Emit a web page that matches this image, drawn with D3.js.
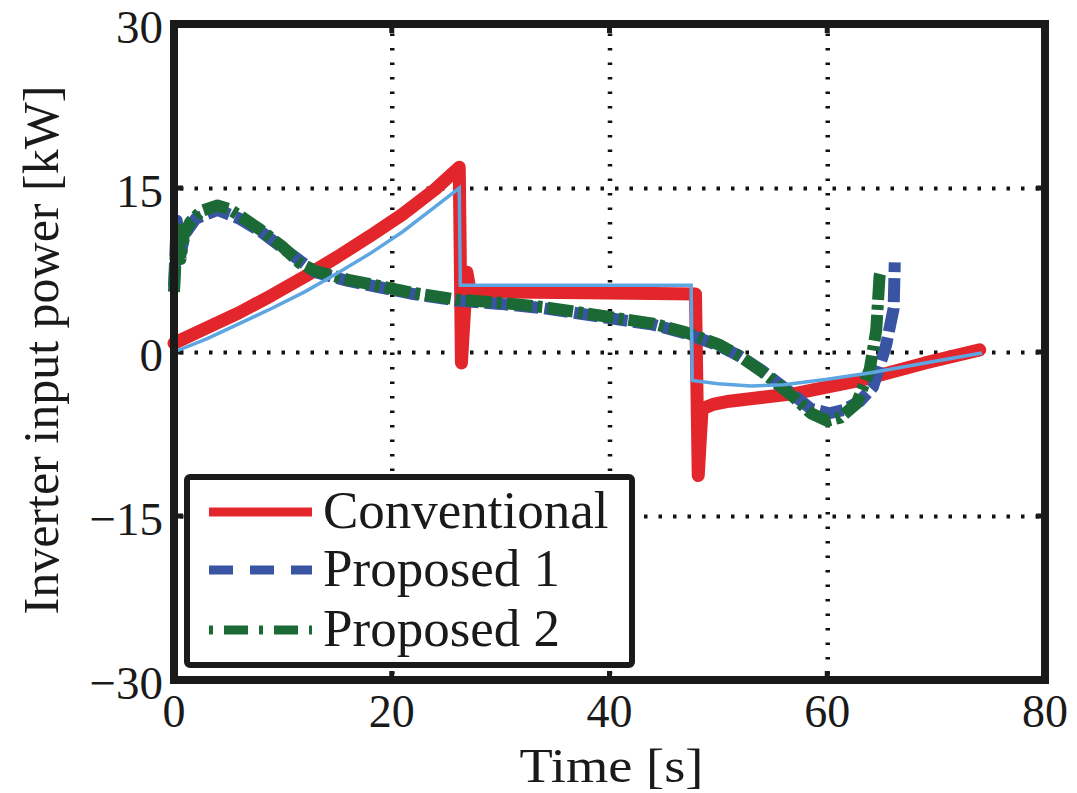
<!DOCTYPE html>
<html>
<head>
<meta charset="utf-8">
<script src="https://cdn.jsdelivr.net/npm/d3@7"></script>
<style>
  body { margin: 0; background: #fff; }
  text { font-family: "Liberation Serif", "Times New Roman", serif; fill: #1a1a1a; }
</style>
</head>
<body>
<script>
//////////////////////
// DATA             //
const xTicks = [0, 20, 40, 60, 80];
const yTicks = [-30, -15, 0, 15, 30];
const xLabel = "Time [s]";
const yLabel = "Inverter input power [kW]";
const legendNames = ["Conventional", "Proposed 1", "Proposed 2"];

// Conventional (red)
const conventionalT = [0, 3, 6, 9, 12, 15, 18, 21, 24, 26.2, 26.4, 26.9, 27.2, 30, 40, 47.9, 48.15, 48.5, 49.5, 51, 57, 63, 69, 74];
const conventionalP = [0.8, 2.2, 3.6, 5.2, 6.9, 8.7, 10.6, 12.6, 14.9, 16.9, -1.0, 7.3, 5.6, 5.5, 5.4, 5.3, -11.3, -5.2, -4.8, -4.5, -3.8, -2.6, -1.0, 0.2];

// Proposed 1 (blue, dashed)
const proposed1T = [0, 0.25, 0.6, 1.0, 2.0, 4.0, 6.0, 8.0, 10.0, 13, 16, 19, 22, 26, 30, 34, 40, 44, 47, 50, 52, 54, 57, 58.5, 60.2, 61.5, 63, 64.2, 65.4, 66.1, 66.2];
const proposed1P = [6.0, 12.0, 9.0, 10.8, 12.2, 13.0, 12.2, 11.0, 9.5, 7.3, 6.5, 5.9, 5.3, 4.7, 4.4, 4.0, 3.1, 2.5, 1.7, 0.6, -0.4, -1.7, -4.0, -5.2, -5.6, -5.3, -4.5, -3.2, 0.6, 4.0, 8.2];

// Proposed 2 (green, dash-dot)
const proposed2T = [0, 0.3, 0.6, 0.9, 1.5, 2.5, 4.0, 5.0, 6.0, 7.9, 10.0, 11.6, 13, 16, 19, 22, 26, 30, 34, 40, 44, 47, 50, 52, 54, 57, 58.5, 60, 61.2, 62.7, 63.9, 64.5, 64.8, 64.9];
const proposed2P = [5.5, 11.9, 8.5, 10.7, 11.9, 12.9, 13.4, 13.1, 12.5, 11.2, 9.6, 8.1, 7.4, 6.6, 6.0, 5.4, 4.8, 4.5, 4.1, 3.2, 2.6, 1.8, 0.7, -0.4, -1.8, -4.2, -5.6, -6.3, -6.0, -4.7, -1.6, 2.0, 6.9, 7.3];

// reference command (light blue thin line, not in legend)
const referenceT = [0, 3, 6, 9, 12, 15, 18, 21, 24, 26.2, 26.3, 47.5, 47.6, 50, 53, 56, 60, 64, 69, 74.2];
const referenceP = [0, 1.2, 2.6, 4.0, 5.5, 7.2, 9.0, 11.0, 13.3, 15.0, 6.1, 6.1, -2.6, -2.9, -3.1, -3.0, -2.5, -1.9, -1.0, -0.1];
//////////////////////

const w = 1077, h = 793;
const mLeft = 174, mRight = 1045, mTop = 24, mBottom = 680;

const svg = d3.select("body").append("svg")
  .attr("width", w)
  .attr("height", h);

const xScale = d3.scaleLinear().domain([0, 80]).range([mLeft, mRight]);
const yScale = d3.scaleLinear().domain([-30, 30]).range([mBottom, mTop]);

// dotted grid
svg.append("g")
  .attr("transform", `translate(0,${mBottom})`)
  .call(d3.axisBottom(xScale).tickValues(xTicks.slice(1, -1)).tickSize(-(mBottom - mTop)).tickFormat(""))
  .call(g => g.select(".domain").remove())
  .selectAll("line")
  .attr("stroke", "#111").attr("stroke-width", 4.5)
  .attr("stroke-dasharray", "2.5,12").attr("stroke-dashoffset", -6);

svg.append("g")
  .attr("transform", `translate(${mLeft},0)`)
  .call(d3.axisLeft(yScale).tickValues(yTicks.slice(1, -1)).tickSize(-(mRight - mLeft)).tickFormat(""))
  .call(g => g.select(".domain").remove())
  .selectAll("line")
  .attr("stroke", "#111").attr("stroke-width", 4)
  .attr("stroke-dasharray", "3.5,11").attr("stroke-dashoffset", -6);

// small inward ticks
const tickLen = 9;
xTicks.forEach(t => {
  svg.append("line").attr("x1", xScale(t)).attr("x2", xScale(t))
    .attr("y1", mBottom).attr("y2", mBottom - tickLen).attr("stroke", "#1a1a1a").attr("stroke-width", 5);
  svg.append("line").attr("x1", xScale(t)).attr("x2", xScale(t))
    .attr("y1", mTop).attr("y2", mTop + tickLen).attr("stroke", "#1a1a1a").attr("stroke-width", 5);
});
yTicks.forEach(v => {
  svg.append("line").attr("x1", mLeft).attr("x2", mLeft + tickLen)
    .attr("y1", yScale(v)).attr("y2", yScale(v)).attr("stroke", "#1a1a1a").attr("stroke-width", 5);
  svg.append("line").attr("x1", mRight).attr("x2", mRight - tickLen)
    .attr("y1", yScale(v)).attr("y2", yScale(v)).attr("stroke", "#1a1a1a").attr("stroke-width", 5);
});

// series
const line = d3.line().x(d => xScale(d[0])).y(d => yScale(d[1]));
const zip = (a, b) => a.map((t, i) => [t, b[i]]);

const plot = svg.append("g");
plot.append("path").datum(zip(conventionalT, conventionalP))
  .attr("d", line).attr("fill", "none")
  .attr("stroke", "#e3262b").attr("stroke-width", 13)
  .attr("stroke-linejoin", "round").attr("stroke-linecap", "round");
plot.append("path").datum(zip(proposed1T, proposed1P))
  .attr("d", line).attr("fill", "none")
  .attr("stroke", "#3a54a4").attr("stroke-width", 12)
  .attr("stroke-linejoin", "round")
  .attr("stroke-dasharray", "24,6");
plot.append("path").datum(zip(proposed2T, proposed2P))
  .attr("d", line).attr("fill", "none")
  .attr("stroke", "#1b6a36").attr("stroke-width", 12)
  .attr("stroke-linejoin", "round")
  .attr("stroke-dasharray", "26,5,5,5");
plot.append("path").datum(zip(referenceT, referenceP))
  .attr("d", line).attr("fill", "none")
  .attr("stroke", "#5ea6e2").attr("stroke-width", 3.5)
  .attr("stroke-linejoin", "miter");

// frame
svg.append("rect")
  .attr("x", mLeft).attr("y", mTop)
  .attr("width", mRight - mLeft).attr("height", mBottom - mTop)
  .attr("fill", "none").attr("stroke", "#1a1a1a").attr("stroke-width", 8);

// tick labels
const fmt = v => v < 0 ? "\u2212" + Math.abs(v) : String(v);
svg.append("g").selectAll("text").data(xTicks).join("text")
  .attr("x", d => xScale(d)).attr("y", mBottom + 47)
  .attr("text-anchor", "middle").attr("font-size", 46)
  .text(d => d);
svg.append("g").selectAll("text").data(yTicks).join("text")
  .attr("x", mLeft - 11).attr("y", d => yScale(d)).attr("dy", "0.4em")
  .attr("text-anchor", "end").attr("font-size", 47)
  .text(fmt);

// axis titles
svg.append("text")
  .attr("x", (mLeft + mRight) / 2 + 2).attr("y", 782)
  .attr("text-anchor", "middle").attr("font-size", 49)
  .attr("textLength", 184).attr("lengthAdjust", "spacingAndGlyphs")
  .text(xLabel);
svg.append("text")
  .attr("transform", `translate(58,350) rotate(-90)`)
  .attr("text-anchor", "middle").attr("font-size", 50)
  .text(yLabel);

// legend
const legend = svg.append("g");
legend.append("rect")
  .attr("x", 187).attr("y", 477).attr("width", 445).attr("height", 188).attr("rx", 3)
  .attr("fill", "#fff").attr("stroke", "#1a1a1a").attr("stroke-width", 6);
const legendColors = ["#e3262b", "#3a54a4", "#1b6a36"];
const legendDash = [null, "24,17", "4,11,24,11"];
const legendRows = [512, 570, 630];
legendNames.forEach((name, i) => {
  legend.append("line")
    .attr("x1", 209).attr("x2", 312)
    .attr("y1", legendRows[i]).attr("y2", legendRows[i])
    .attr("stroke", legendColors[i]).attr("stroke-width", 9)
    .attr("stroke-dasharray", legendDash[i]);
  legend.append("text")
    .attr("x", 323).attr("y", legendRows[i] + 16)
    .attr("font-size", 53)
    .text(name);
});
</script>
</body>
</html>
